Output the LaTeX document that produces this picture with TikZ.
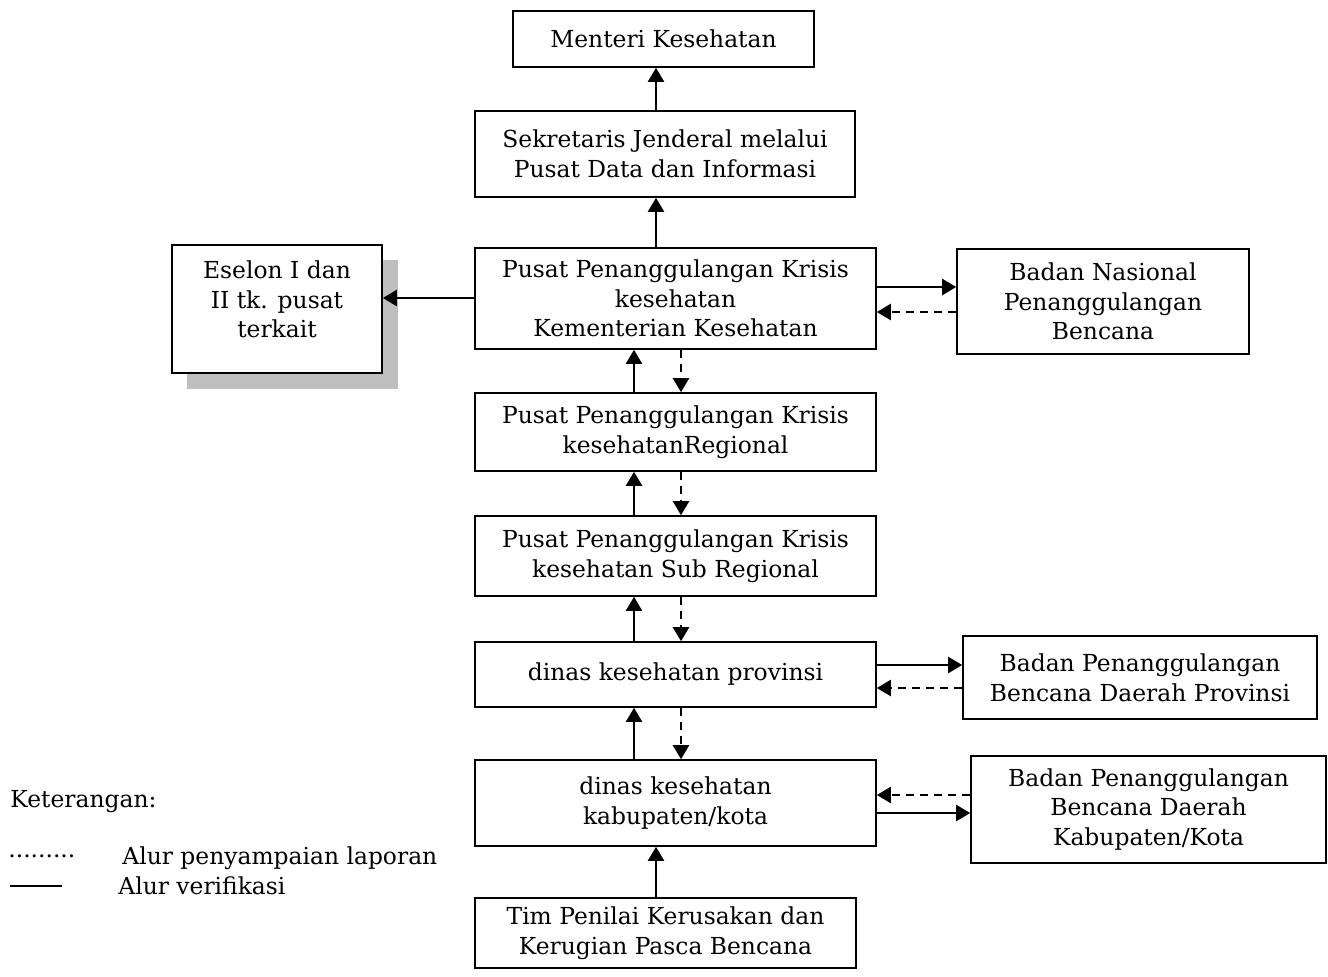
\documentclass[tikz,border=0pt]{standalone}
\usepackage{fontspec}
\setmainfont{DejaVu Serif}
\usetikzlibrary{arrows.meta}
\begin{document}
\begin{tikzpicture}[x=0.5pt,y=-0.5pt,
  box/.style={draw,line width=0.8pt,align=center,inner sep=0pt,font=\fontsize{11.7pt}{14.8pt}\selectfont},
  arr/.style={line width=1.1pt,-{Triangle[length=7pt,width=8pt]}},
  darr/.style={arr,dash pattern=on 4pt off 3pt},
  lbl/.style={anchor=west,inner sep=0pt,font=\fontsize{11.7pt}{14.8pt}\selectfont}]
\useasboundingbox (0,0) rectangle (1328,976);
\newcommand{\bx}[6]{\node[box,minimum width={(#4-#2)*0.5pt},minimum height={(#5-#3)*0.5pt}] (#1) at ({(#2+#4)/2},{(#3+#5)/2}) {#6};}
% shadow
\fill[black!25] (187,260) rectangle (398,389);
\fill[white] (172,245) rectangle (382,373);
\bx{men}{513}{11}{814}{67}{Menteri Kesehatan}
\bx{sek}{475}{111}{855}{197}{Sekretaris Jenderal melalui\\Pusat Data dan Informasi}
\bx{ese}{172}{245}{382}{373}{Eselon I dan\\II tk. pusat\\terkait\\[-5pt]\mbox{}}
\bx{ppk}{475}{248}{876}{349}{Pusat Penanggulangan Krisis\\kesehatan\\Kementerian Kesehatan}
\bx{bnpb}{957}{249}{1249}{354}{Badan Nasional\\Penanggulangan\\Bencana}
\bx{reg}{475}{393}{876}{471}{Pusat Penanggulangan Krisis\\kesehatanRegional}
\bx{sub}{475}{516}{876}{596}{Pusat Penanggulangan Krisis\\kesehatan Sub Regional}
\bx{prov}{475}{642}{876}{707}{dinas kesehatan provinsi}
\bx{bpbdp}{963}{636}{1317}{719}{Badan Penanggulangan\\Bencana Daerah Provinsi}
\bx{kab}{475}{760}{876}{846}{dinas kesehatan\\kabupaten/kota}
\bx{bpbdk}{971}{756}{1326}{863}{Badan Penanggulangan\\Bencana Daerah\\Kabupaten/Kota}
\bx{tim}{475}{898}{856}{968}{Tim Penilai Kerusakan dan\\Kerugian Pasca Bencana}
% x and y guides
\coordinate (xm) at (656,0);
\coordinate (xl) at (634,0);
\coordinate (xr) at (681,0);
% vertical
\draw[arr] (sek.north -| xm) -- (men.south -| xm);
\draw[arr] (ppk.north -| xm) -- (sek.south -| xm);
\foreach \lo/\hi in {reg/ppk,sub/reg,prov/sub,kab/prov}{
  \draw[arr] (\lo.north -| xl) -- (\hi.south -| xl);
  \draw[darr] (\hi.south -| xr) -- (\lo.north -| xr);
}
\draw[arr] (tim.north -| xm) -- (kab.south -| xm);
% horizontal
\coordinate (y1) at (0,298);
\coordinate (y2) at (0,287);
\coordinate (y3) at (0,312);
\coordinate (y4) at (0,665);
\coordinate (y5) at (0,688);
\coordinate (y6) at (0,795);
\coordinate (y7) at (0,813);
\draw[arr] (ppk.west |- y1) -- (ese.east |- y1);
\draw[arr] (ppk.east |- y2) -- (bnpb.west |- y2);
\draw[darr] (bnpb.west |- y3) -- (ppk.east |- y3);
\draw[arr] (prov.east |- y4) -- (bpbdp.west |- y4);
\draw[darr] (bpbdp.west |- y5) -- (prov.east |- y5);
\draw[darr] (bpbdk.west |- y6) -- (kab.east |- y6);
\draw[arr] (kab.east |- y7) -- (bpbdk.west |- y7);
% legend
\node[lbl] (ket) at (10,802) {Keterangan:};
\node[lbl] (dots) at (8,856) {.........};
\node[lbl] (l1) at (122,858) {Alur penyampaian laporan};
\coordinate (la) at (10,886);
\coordinate (lb) at (62,886);
\draw[line width=1pt] (la) -- (lb);
\node[lbl] (l2) at (118,886) {Alur verifikasi};
\end{tikzpicture}
\end{document}
